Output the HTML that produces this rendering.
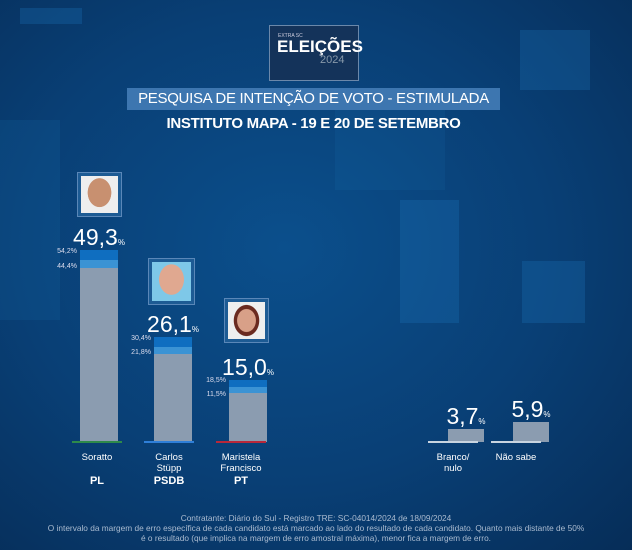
<!DOCTYPE html>
<html><head><meta charset="utf-8"><style>
*{margin:0;padding:0;box-sizing:border-box}
body{width:632px;height:550px;overflow:hidden;position:relative;font-family:"Liberation Sans",sans-serif;color:#fff;
background:radial-gradient(ellipse at 45% 45%,#0b4f8c 0%,#093f75 55%,#062d58 100%)}
.a{position:absolute}
.sq{position:absolute;background:rgba(30,120,190,0.28)}
.bar{position:absolute;background:#8b9cb0}
.c{text-align:center}
.pct{position:absolute;font-size:23px;text-align:center;width:80px}
.pct small{font-size:8px}
.mg{position:absolute;font-size:7px;color:#dde;text-align:right;width:30px}
.nm{position:absolute;font-size:9.5px;text-align:center;width:80px;line-height:11px}
.pt{position:absolute;font-size:11px;font-weight:bold;text-align:center;width:80px}
.ph{position:absolute;border:1px solid #5a87b8;background:#1d5b94;padding:3px}
.ph div{width:100%;height:100%}
</style></head><body>
<div class="sq" style="left:400px;top:200px;width:59px;height:123px"></div>
<div class="sq" style="left:522px;top:261px;width:63px;height:62px"></div>
<div class="sq" style="left:20px;top:8px;width:62px;height:16px"></div>
<div class="sq" style="left:520px;top:30px;width:70px;height:60px"></div>
<div class="sq" style="left:335px;top:90px;width:110px;height:100px;background:rgba(30,120,190,0.12)"></div>
<div class="sq" style="left:0px;top:120px;width:60px;height:200px;background:rgba(30,120,190,0.15)"></div>
<div class="a" style="left:269px;top:25px;width:90px;height:56px;background:#14335a;border:1px solid #6b88aa"></div>
<div class="a" style="left:278px;top:33px;font-size:5px;color:#ccd">EXTRA SC</div>
<div class="a" style="left:277px;top:37px;font-size:17px;font-weight:bold">ELEIÇÕES</div>
<div class="a" style="left:320px;top:54px;font-size:11px;color:#8899aa">2024</div>
<div class="a" style="left:127px;top:88px;width:373px;height:22px;background:#3d76b0"></div>
<div class="a c" style="left:127px;top:90px;width:373px;font-size:15px;letter-spacing:-0.3px">PESQUISA DE INTENÇÃO DE VOTO - ESTIMULADA</div>
<div class="a c" style="left:127px;top:115px;width:373px;font-size:15px;font-weight:bold;letter-spacing:-0.3px">INSTITUTO MAPA - 19 E 20 DE SETEMBRO</div>

<div class="ph" style="left:77px;top:172px;width:45px;height:45px"><div style="background:radial-gradient(ellipse 45% 55% at 50% 45%,#c89070 70%,#eee 72%)"></div></div>
<div class="ph" style="left:148px;top:258px;width:47px;height:47px"><div style="background:radial-gradient(ellipse 45% 55% at 50% 45%,#e0a890 70%,#7ec8e8 72%)"></div></div>
<div class="ph" style="left:224px;top:298px;width:45px;height:45px"><div style="background:radial-gradient(ellipse 45% 55% at 50% 50%,#d8a088 55%,#6a2a20 58%,#6a2a20 75%,#eee 78%)"></div></div>

<div class="pct" style="left:59px;top:224px">49,3<small>%</small></div>
<div class="pct" style="left:133px;top:311px">26,1<small>%</small></div>
<div class="pct" style="left:208px;top:354px">15,0<small>%</small></div>
<div class="pct" style="left:426px;top:403px">3,7<small>%</small></div>
<div class="pct" style="left:491px;top:396px">5,9<small>%</small></div>

<div class="mg" style="left:47px;top:248px">54,2%</div><div class="mg" style="left:47px;top:263px">44,4%</div>
<div class="mg" style="left:121px;top:335px">30,4%</div><div class="mg" style="left:121px;top:349px">21,8%</div>
<div class="mg" style="left:196px;top:377px">18,5%</div><div class="mg" style="left:196px;top:391px">11,5%</div>

<div class="bar" style="left:80px;top:250px;width:38px;height:192px;background:linear-gradient(#0f6ec0 0 10px,#3b93d4 10px 18px,#8b9cb0 18px)"></div>
<div class="bar" style="left:154px;top:337px;width:38px;height:105px;background:linear-gradient(#0f6ec0 0 10px,#3b93d4 10px 17px,#8b9cb0 17px)"></div>
<div class="bar" style="left:229px;top:380px;width:38px;height:62px;background:linear-gradient(#0f6ec0 0 7px,#3b93d4 7px 13px,#8b9cb0 13px)"></div>
<div class="bar" style="left:448px;top:429px;width:36px;height:13px"></div>
<div class="bar" style="left:513px;top:422px;width:36px;height:20px"></div>

<div class="a" style="left:72px;top:441px;width:50px;height:2px;background:#2e8a4a"></div>
<div class="a" style="left:144px;top:441px;width:50px;height:2px;background:#2f7fd8"></div>
<div class="a" style="left:216px;top:441px;width:50px;height:2px;background:#b8283a"></div>
<div class="a" style="left:428px;top:441px;width:50px;height:2px;background:#c8d4e0"></div>
<div class="a" style="left:491px;top:441px;width:50px;height:2px;background:#c8d4e0"></div>

<div class="nm" style="left:57px;top:452px">Soratto</div>
<div class="nm" style="left:129px;top:452px">Carlos<br>Stüpp</div>
<div class="nm" style="left:201px;top:452px">Maristela<br>Francisco</div>
<div class="nm" style="left:413px;top:452px">Branco/<br>nulo</div>
<div class="nm" style="left:476px;top:452px">Não sabe</div>
<div class="pt" style="left:57px;top:475px">PL</div>
<div class="pt" style="left:129px;top:475px">PSDB</div>
<div class="pt" style="left:201px;top:475px">PT</div>

<div class="a c" style="left:0;top:513px;width:632px;font-size:8.3px;line-height:10px;color:#aabbd0;white-space:nowrap">Contratante: Diário do Sul - Registro TRE: SC-04014/2024 de 18/09/2024<br>O intervalo da margem de erro específica de cada candidato está marcado ao lado do resultado de cada candidato. Quanto mais distante de 50%<br>é o resultado (que implica na margem de erro amostral máxima), menor fica a margem de erro.</div>
</body></html>
